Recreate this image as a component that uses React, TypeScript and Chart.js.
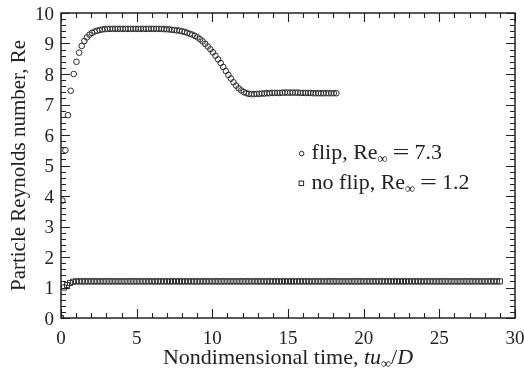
import React, { useEffect, useRef } from "react";
import { Chart, registerables } from "chart.js";

Chart.register(...registerables);

const FONT = '"Liberation Serif", "DejaVu Serif", serif';

// ---- axis ranges & tick labels ----
const xRange = [0, 30];
const yRange = [0, 10];
const xTickValues = [0, 5, 10, 15, 20, 25, 30];
const xTickLabels = ["0", "5", "10", "15", "20", "25", "30"];
const yTickValues = [0, 1, 2, 3, 4, 5, 6, 7, 8, 9, 10];
const yTickLabels = ["0", "1", "2", "3", "4", "5", "6", "7", "8", "9", "10"];
const xMinorStep = 1;
const yMinorStep = 0.2;

// ---- legend / titles ----
const flipLabel = ["flip, Re", "∞", "7.3"];
const noFlipLabel = ["no flip, Re", "∞", "1.2"];
const yTitle = "Particle Reynolds number, Re";

// ---- flip series (circles) ----
const flipTime = [
  0, 0.09, 0.29, 0.46, 0.64, 0.84, 1.02, 1.2, 1.37, 1.54,
  1.71, 1.88, 2.05, 2.22, 2.39, 2.56, 2.73, 2.9, 3.07, 3.24,
  3.41, 3.58, 3.75, 3.92, 4.09, 4.26, 4.43, 4.6, 4.77, 4.94,
  5.11, 5.28, 5.45, 5.62, 5.79, 5.96, 6.13, 6.3, 6.47, 6.64,
  6.81, 6.98, 7.15, 7.32, 7.49, 7.66, 7.83, 8.0, 8.17, 8.34,
  8.51, 8.68, 8.85, 9.02, 9.19, 9.36, 9.53, 9.7, 9.87, 10.04,
  10.21, 10.38, 10.55, 10.72, 10.89, 11.06, 11.23, 11.4, 11.57, 11.74,
  11.91, 12.08, 12.25, 12.42, 12.59, 12.76, 12.93, 13.1, 13.27, 13.44,
  13.61, 13.78, 13.95, 14.12, 14.29, 14.46, 14.63, 14.8, 14.97, 15.14,
  15.31, 15.48, 15.65, 15.82, 15.99, 16.16, 16.33, 16.5, 16.67, 16.84,
  17.01, 17.18, 17.35, 17.52, 17.69, 17.86, 18.03, 18.2,
];
const flipRe = [
  0, 3.85, 5.5, 6.65, 7.45, 8.0, 8.4, 8.7, 8.92, 9.08,
  9.2, 9.29, 9.35, 9.39, 9.42, 9.44, 9.46, 9.47, 9.48, 9.48,
  9.48, 9.48, 9.48, 9.48, 9.48, 9.48, 9.48, 9.48, 9.48, 9.48,
  9.48, 9.48, 9.48, 9.48, 9.48, 9.48, 9.48, 9.48, 9.48, 9.48,
  9.47, 9.47, 9.46, 9.45, 9.44, 9.43, 9.42, 9.4, 9.38, 9.35,
  9.32, 9.29, 9.25, 9.2, 9.14, 9.07, 8.99, 8.9, 8.81, 8.71,
  8.6, 8.48, 8.36, 8.23, 8.1, 7.97, 7.85, 7.73, 7.62, 7.53,
  7.46, 7.41, 7.37, 7.35, 7.34, 7.34, 7.35, 7.35, 7.36, 7.36,
  7.37, 7.37, 7.38, 7.38, 7.38, 7.38, 7.39, 7.39, 7.39, 7.39,
  7.39, 7.39, 7.39, 7.38, 7.38, 7.38, 7.38, 7.38, 7.37, 7.37,
  7.37, 7.37, 7.37, 7.37, 7.37, 7.37, 7.37, 7.37,
];

// ---- no-flip series (squares) ----
const noFlipTime = [
  0, 0.2, 0.4, 0.6, 0.8, 1, 1.2, 1.4, 1.6, 1.8,
  2, 2.2, 2.4, 2.6, 2.8, 3, 3.2, 3.4, 3.6, 3.8,
  4, 4.2, 4.4, 4.6, 4.8, 5, 5.2, 5.4, 5.6, 5.8,
  6, 6.2, 6.4, 6.6, 6.8, 7, 7.2, 7.4, 7.6, 7.8,
  8, 8.2, 8.4, 8.6, 8.8, 9, 9.2, 9.4, 9.6, 9.8,
  10, 10.2, 10.4, 10.6, 10.8, 11, 11.2, 11.4, 11.6, 11.8,
  12, 12.2, 12.4, 12.6, 12.8, 13, 13.2, 13.4, 13.6, 13.8,
  14, 14.2, 14.4, 14.6, 14.8, 15, 15.2, 15.4, 15.6, 15.8,
  16, 16.2, 16.4, 16.6, 16.8, 17, 17.2, 17.4, 17.6, 17.8,
  18, 18.2, 18.4, 18.6, 18.8, 19, 19.2, 19.4, 19.6, 19.8,
  20, 20.2, 20.4, 20.6, 20.8, 21, 21.2, 21.4, 21.6, 21.8,
  22, 22.2, 22.4, 22.6, 22.8, 23, 23.2, 23.4, 23.6, 23.8,
  24, 24.2, 24.4, 24.6, 24.8, 25, 25.2, 25.4, 25.6, 25.8,
  26, 26.2, 26.4, 26.6, 26.8, 27, 27.2, 27.4, 27.6, 27.8,
  28, 28.2, 28.4, 28.6, 28.8, 29,
];
const noFlipRe = [
  0, 1.0, 1.08, 1.15, 1.19, 1.2, 1.2, 1.2, 1.2, 1.2,
  1.2, 1.2, 1.2, 1.2, 1.2, 1.2, 1.2, 1.2, 1.2, 1.2,
  1.2, 1.2, 1.2, 1.2, 1.2, 1.2, 1.2, 1.2, 1.2, 1.2,
  1.2, 1.2, 1.2, 1.2, 1.2, 1.2, 1.2, 1.2, 1.2, 1.2,
  1.2, 1.2, 1.2, 1.2, 1.2, 1.2, 1.2, 1.2, 1.2, 1.2,
  1.2, 1.2, 1.2, 1.2, 1.2, 1.2, 1.2, 1.2, 1.2, 1.2,
  1.2, 1.2, 1.2, 1.2, 1.2, 1.2, 1.2, 1.2, 1.2, 1.2,
  1.2, 1.2, 1.2, 1.2, 1.2, 1.2, 1.2, 1.2, 1.2, 1.2,
  1.2, 1.2, 1.2, 1.2, 1.2, 1.2, 1.2, 1.2, 1.2, 1.2,
  1.2, 1.2, 1.2, 1.2, 1.2, 1.2, 1.2, 1.2, 1.2, 1.2,
  1.2, 1.2, 1.2, 1.2, 1.2, 1.2, 1.2, 1.2, 1.2, 1.2,
  1.2, 1.2, 1.2, 1.2, 1.2, 1.2, 1.2, 1.2, 1.2, 1.2,
  1.2, 1.2, 1.2, 1.2, 1.2, 1.2, 1.2, 1.2, 1.2, 1.2,
  1.2, 1.2, 1.2, 1.2, 1.2, 1.2, 1.2, 1.2, 1.2, 1.2,
  1.2, 1.2, 1.2, 1.2, 1.2, 1.2,
];

const INK = "#222";
const TICK_FONT = `19px ${FONT}`;
const TITLE_FONT = `21px ${FONT}`;
const XTITLE_FONT = `22px ${FONT}`;
const LEG_FONT = `22px ${FONT}`;
const SUB_FONT = `14px ${FONT}`;

const decorPlugin = {
  id: "decor",
  afterDraw(chart: any) {
    const { ctx, chartArea: a, scales } = chart;
    const xs = scales.x;
    const ys = scales.y;
    ctx.save();
    ctx.strokeStyle = INK;
    ctx.fillStyle = INK;
    ctx.lineWidth = 1.1;

    // minor + major ticks, inside, mirrored on all four sides
    ctx.beginPath();
    const nx = Math.round((xRange[1] - xRange[0]) / xMinorStep);
    for (let i = 0; i <= nx; i++) {
      const v = xRange[0] + i * xMinorStep;
      const major = xTickValues.some((t) => Math.abs(t - v) < 1e-6);
      const len = major ? 9 : 5;
      const px = Math.round(xs.getPixelForValue(v)) + 0.5;
      ctx.moveTo(px, a.bottom);
      ctx.lineTo(px, a.bottom - len);
      ctx.moveTo(px, a.top);
      ctx.lineTo(px, a.top + len);
    }
    const ny = Math.round((yRange[1] - yRange[0]) / yMinorStep);
    for (let i = 0; i <= ny; i++) {
      const v = yRange[0] + i * yMinorStep;
      const major = yTickValues.some((t) => Math.abs(t - v) < 1e-6);
      const len = major ? 9 : 5;
      const py = Math.round(ys.getPixelForValue(v)) + 0.5;
      ctx.moveTo(a.left, py);
      ctx.lineTo(a.left + len, py);
      ctx.moveTo(a.right, py);
      ctx.lineTo(a.right - len, py);
    }
    ctx.stroke();

    // frame
    ctx.lineWidth = 1.5;
    ctx.strokeRect(a.left, a.top, a.right - a.left, a.bottom - a.top);

    // tick labels
    ctx.font = TICK_FONT;
    ctx.textBaseline = "alphabetic";
    ctx.textAlign = "center";
    xTickValues.forEach((v, i) => {
      ctx.fillText(xTickLabels[i], xs.getPixelForValue(v), a.bottom + 26);
    });
    ctx.textAlign = "right";
    yTickValues.forEach((v, i) => {
      ctx.fillText(yTickLabels[i], a.left - 7, ys.getPixelForValue(v) + 6.5);
    });
    ctx.textAlign = "left";

    // legend
    const drawLabel = (parts: string[], x: number, y: number) => {
      ctx.font = LEG_FONT;
      ctx.fillText(parts[0], x, y);
      let cx = x + ctx.measureText(parts[0]).width;
      ctx.font = SUB_FONT;
      ctx.fillText(parts[1], cx, y + 4);
      cx += ctx.measureText(parts[1]).width + 5;
      ctx.font = LEG_FONT;
      const eqW = ctx.measureText("=").width;
      const sx = 17 / eqW;
      ctx.save();
      ctx.translate(cx, y);
      ctx.scale(sx, 1);
      ctx.fillText("=", 0, 0);
      ctx.restore();
      cx += 17 + 5;
      ctx.fillText(parts[2], cx, y);
    };
    const w = a.right - a.left;
    const h = a.bottom - a.top;
    const lx = a.left + 0.552 * w;
    const ly1 = a.top + 0.479 * h;
    const ly2 = ly1 + 30;
    ctx.lineWidth = 1;
    ctx.beginPath();
    ctx.arc(lx - 10, ly1 - 5.5, 2.3, 0, Math.PI * 2);
    ctx.stroke();
    ctx.strokeRect(lx - 12.5, ly2 - 8, 4.5, 4.5);
    drawLabel(flipLabel, lx, ly1);
    drawLabel(noFlipLabel, lx, ly2);

    // x title (mixed styles)
    const xParts: [string, string, number][] = [
      ["Nondimensional time, ", XTITLE_FONT, 0],
      ["tu", `italic ${XTITLE_FONT}`, 0],
      ["∞", SUB_FONT, 4],
      ["/", XTITLE_FONT, 0],
      ["D", `italic ${XTITLE_FONT}`, 0],
    ];
    let total = 0;
    for (const p of xParts) {
      ctx.font = p[1];
      total += ctx.measureText(p[0]).width;
    }
    let tx = (a.left + a.right) / 2 - total / 2;
    const ty = chart.height - 8;
    for (const p of xParts) {
      ctx.font = p[1];
      ctx.fillText(p[0], tx, ty + p[2]);
      tx += ctx.measureText(p[0]).width;
    }

    // y title
    ctx.save();
    ctx.translate(24.5, (a.top + a.bottom) / 2);
    ctx.rotate(-Math.PI / 2);
    ctx.font = TITLE_FONT;
    ctx.textAlign = "center";
    ctx.fillText(yTitle, 0, 0);
    ctx.restore();

    ctx.restore();
  },
};

export default function App() {
  const ref = useRef<HTMLCanvasElement | null>(null);
  useEffect(() => {
    if (!ref.current) return;
    const chart = new Chart(ref.current, {
      type: "scatter",
      data: {
        datasets: [
          {
            label: "flip",
            data: flipTime.map((t, i) => ({ x: t, y: flipRe[i] })),
            pointStyle: "circle",
            pointRadius: 2.8,
            borderWidth: 1,
            borderColor: "#2a2a2a",
            backgroundColor: "rgba(0,0,0,0)",
            showLine: false,
          },
          {
            label: "no flip",
            data: noFlipTime.map((t, i) => ({ x: t, y: noFlipRe[i] })),
            pointStyle: "rect",
            pointRadius: 3.6,
            borderWidth: 1,
            borderColor: "#2a2a2a",
            backgroundColor: "rgba(0,0,0,0)",
            showLine: false,
          },
        ],
      },
      options: {
        animation: false,
        responsive: false,
        maintainAspectRatio: false,
        layout: { padding: { top: 13, right: 9, left: 61, bottom: 54 } },
        plugins: { legend: { display: false }, tooltip: { enabled: false } },
        scales: {
          x: { type: "linear", min: xRange[0], max: xRange[1], display: false },
          y: { type: "linear", min: yRange[0], max: yRange[1], display: false },
        },
      },
      plugins: [decorPlugin],
    } as any);
    return () => chart.destroy();
  }, []);
  return (
    <div style={{ position: "absolute", left: 0, top: 0, width: 524, height: 372, background: "#fff" }}>
      <canvas ref={ref} width={524} height={372} style={{ display: "block" }} />
    </div>
  );
}
